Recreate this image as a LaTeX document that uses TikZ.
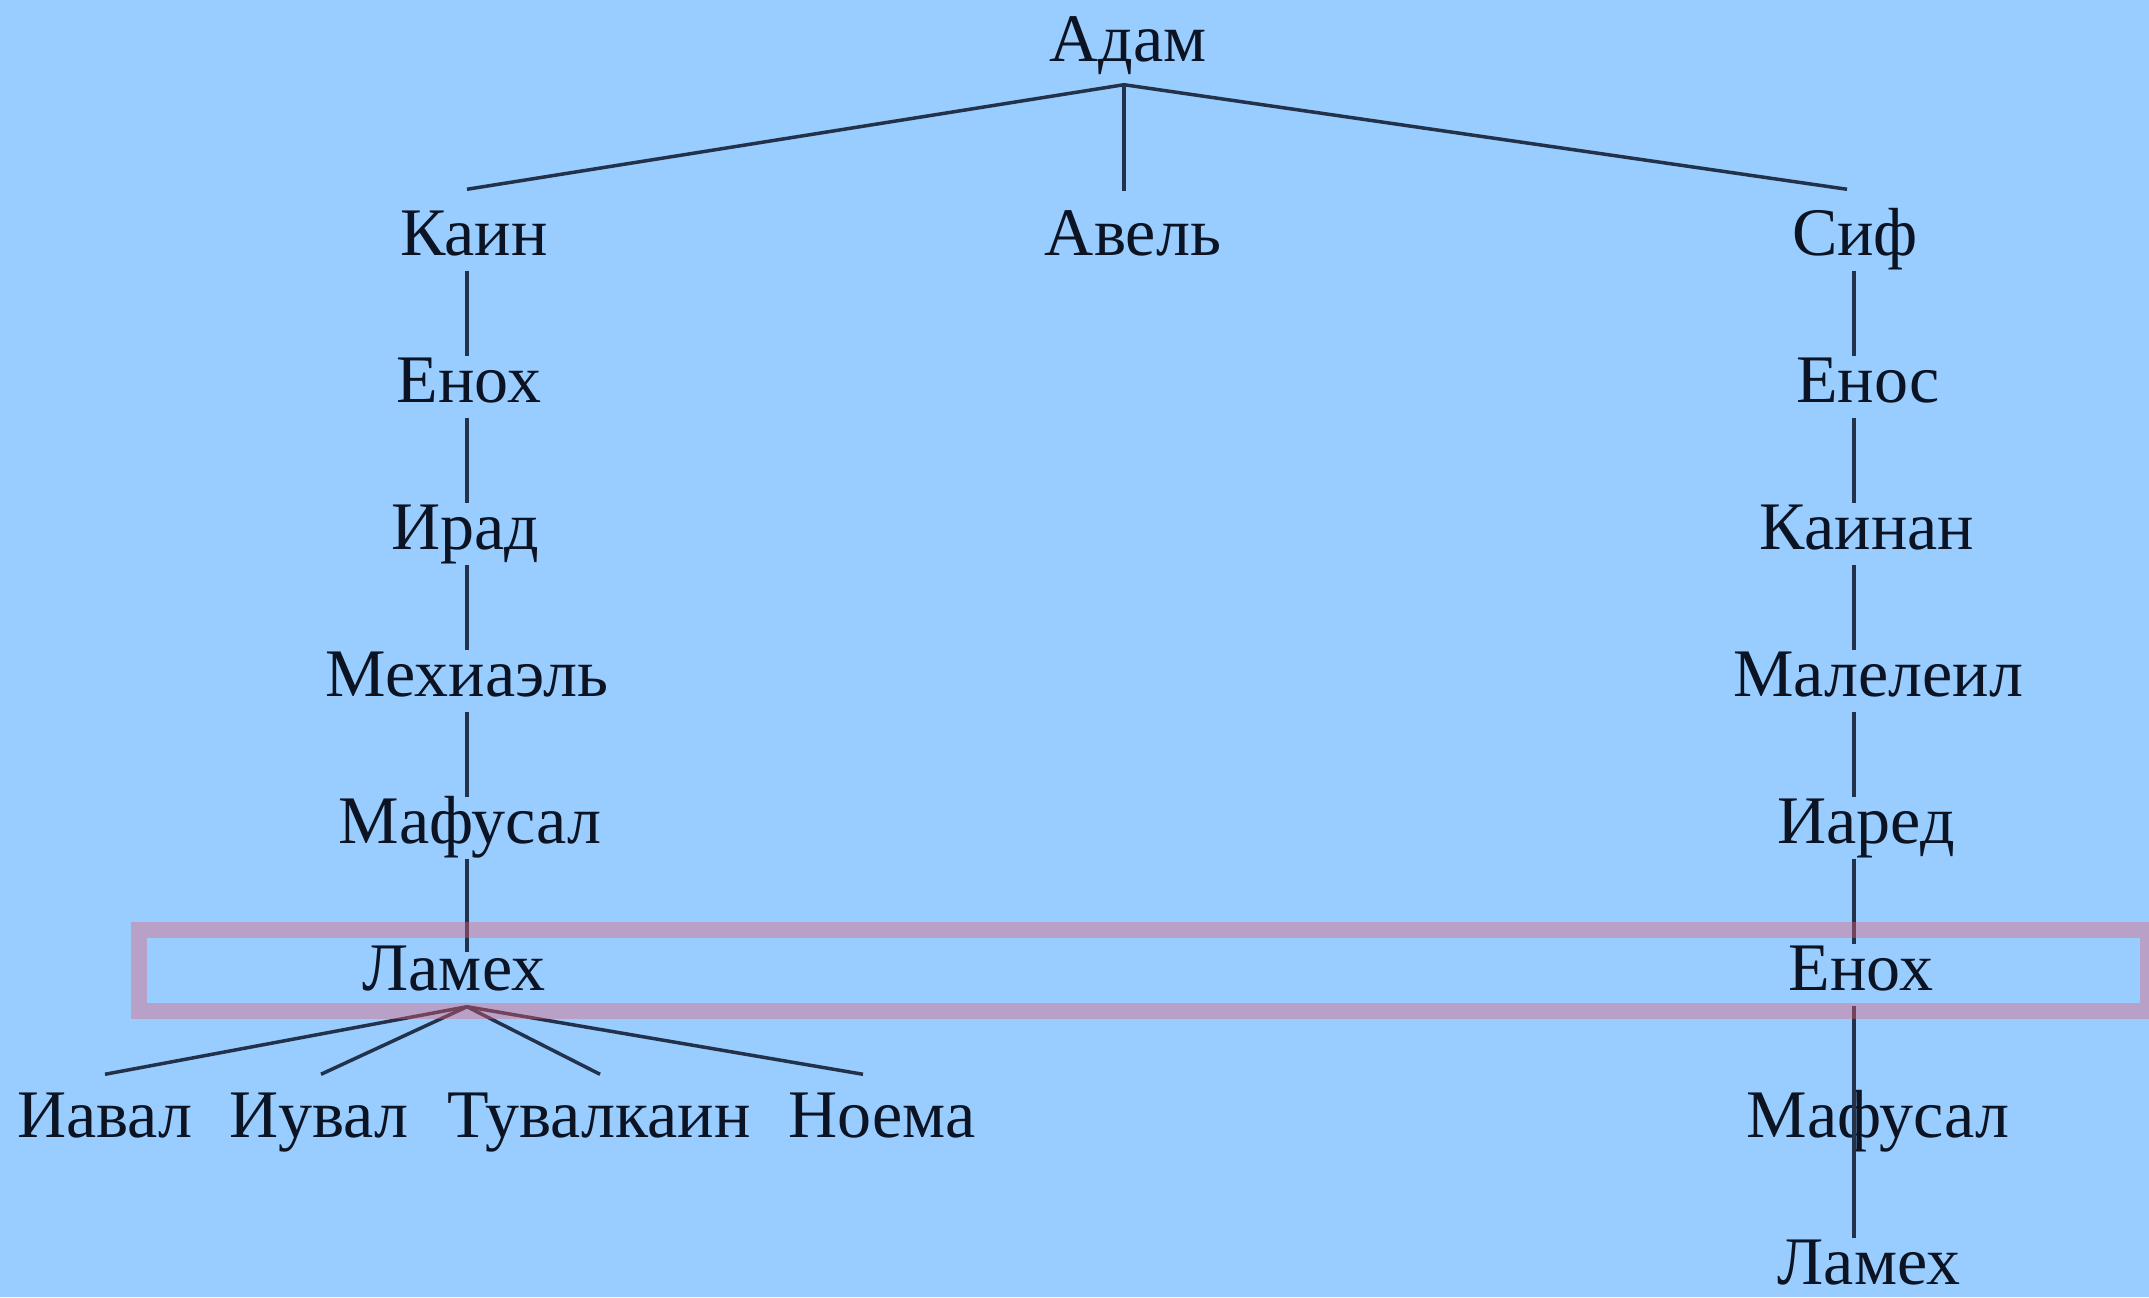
\documentclass[tikz,border=0pt]{standalone}
\usepackage{fontspec}
\setmainfont{Liberation Serif}
\usetikzlibrary{calc}
\definecolor{bgc}{RGB}{153,204,255}
\definecolor{linec}{RGB}{35,50,75}
\definecolor{txtc}{RGB}{12,20,35}
\definecolor{bandc}{RGB}{233,94,117}
\newcommand{\nmfont}{\fontsize{19.35pt}{23pt}\selectfont}
\begin{document}
\begin{tikzpicture}[x=0.01cm,y=-0.01cm,
  nm/.style={anchor=base, inner sep=0pt, text height=0.45cm, text depth=0.15cm, font=\nmfont, text=txtc},
  conn/.style={draw=linec, line width=0.035cm},
  band/.style={draw=bandc, draw opacity=0.4, line width=0.16cm}]
\fill[bgc] (0,0) rectangle (2149,1297);
\useasboundingbox (0,0) rectangle (2149,1297);
\coordinate (Lx) at (467,0);
\coordinate (Mx) at (1124,0);
\coordinate (Rx) at (1854,0);
% nodes
\node[nm] (adam) at (1128,62) {Адам};
\node[nm] (kain) at (474,255) {Каин};
\node[nm] (abel) at (1133,255) {Авель};
\node[nm] (sif) at (1855,255) {Сиф};
\node[nm] (enL) at (469,402) {Енох};
\node[nm] (irad) at (465,549) {Ирад};
\node[nm] (meh) at (467,696) {Мехиаэль};
\node[nm] (mafL) at (470,843) {Мафусал};
\node[nm] (lamL) at (454,990) {Ламех};
\node[nm] (iaval) at (105,1137) {Иавал};
\node[nm] (iuval) at (319,1137) {Иувал};
\node[nm] (tuval) at (599,1137) {Тувалкаин};
\node[nm] (noema) at (882,1137) {Ноема};
\node[nm] (enos) at (1868,402) {Енос};
\node[nm] (kainan) at (1867,549) {Каинан};
\node[nm] (mal) at (1878,696) {Малелеил};
\node[nm] (iared) at (1866,843) {Иаред};
\node[nm] (enR) at (1861,990) {Енох};
\node[nm] (mafR) at (1878,1137) {Мафусал};
\node[nm] (lamR) at (1869,1284) {Ламех};
% connectors from Adam
\coordinate (apex) at ($(adam.south -| Mx)+(0,7)$);
\draw[conn] ($(kain.north -| Lx)+(0,-20)$) -- (apex) -- ($(sif.north)+(-8,-20)$);
\draw[conn] (apex) -- ($(abel.north -| Mx)+(0,-18)$);
% left column
\draw[conn] (kain.south -| Lx) -- (enL.north -| Lx);
\draw[conn] (enL.south -| Lx) -- (irad.north -| Lx);
\draw[conn] (irad.south -| Lx) -- (meh.north -| Lx);
\draw[conn] (meh.south -| Lx) -- (mafL.north -| Lx);
\draw[conn] (mafL.south -| Lx) -- ($(lamL.north -| Lx)+(0,8)$);
% Lamech's children
\coordinate (apex2) at ($(lamL.south -| Lx)+(0,1)$);
\draw[conn] (apex2) -- ($(iaval.north)+(0,-17)$);
\draw[conn] (apex2) -- ($(iuval.north)+(2,-17)$);
\draw[conn] (apex2) -- ($(tuval.north)+(1,-17)$);
\draw[conn] (apex2) -- ($(noema.north)+(-19,-17)$);
% right column
\draw[conn] (sif.south -| Rx) -- (enos.north -| Rx);
\draw[conn] (enos.south -| Rx) -- (kainan.north -| Rx);
\draw[conn] (kainan.south -| Rx) -- (mal.north -| Rx);
\draw[conn] (mal.south -| Rx) -- (iared.north -| Rx);
\draw[conn] (iared.south -| Rx) -- (enR.north -| Rx);
\draw[conn] (enR.south -| Rx) -- (mafR.center -| Rx) -- (lamR.north -| Rx);
% highlight band
\draw[band] (139,930) rectangle (2148,1011);
\end{tikzpicture}
\end{document}
